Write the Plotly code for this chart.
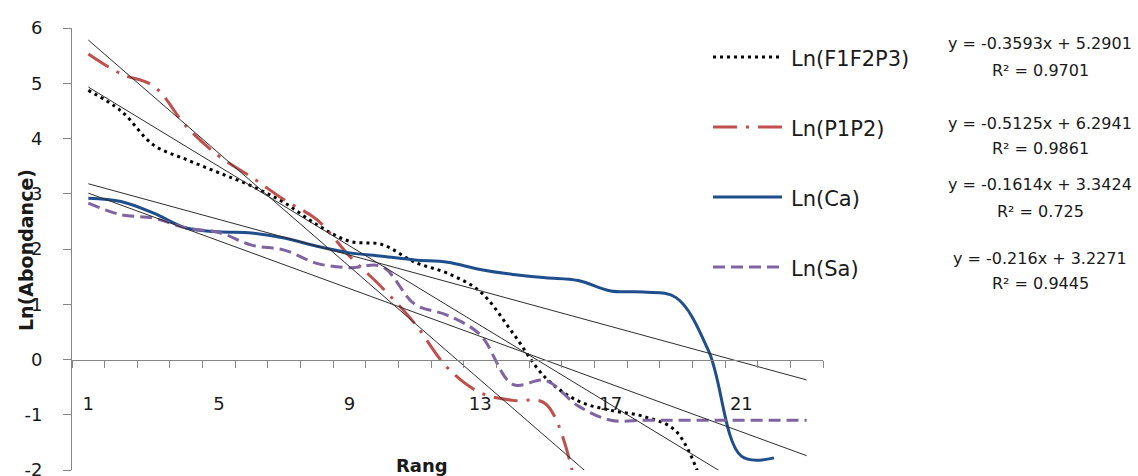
import plotly.graph_objects as go

# Rank (x) and Ln(abundance) per community
rang = list(range(1, 24))
ln_f1f2p3 = [4.87, 4.50, 3.88, 3.62, 3.38, 3.14, 2.84, 2.44, 2.14, 2.08, 1.76, 1.56,
             1.23, 0.48, -0.33, -0.75, -0.92, -1.03, -1.30, -2.60]
ln_p1p2 = [5.53, 5.17, 4.95, 4.22, 3.68, 3.30, 2.89, 2.53, 1.87, 1.30, 0.65, -0.15,
           -0.60, -0.74, -0.80, -2.50]
ln_ca = [2.92, 2.86, 2.65, 2.38, 2.31, 2.29, 2.20, 2.05, 1.93, 1.87, 1.80, 1.76,
         1.63, 1.54, 1.48, 1.43, 1.24, 1.22, 1.12, 0.15, -1.75, -1.78]
ln_sa = [2.83, 2.62, 2.56, 2.38, 2.30, 2.07, 1.98, 1.74, 1.66, 1.68, 1.00, 0.80,
         0.45, -0.45, -0.38, -0.84, -1.10, -1.10, -1.10, -1.10, -1.10, -1.10, -1.10]

series_names = ["Ln(F1F2P3)", "Ln(P1P2)", "Ln(Ca)", "Ln(Sa)"]
series_values = [ln_f1f2p3, ln_p1p2, ln_ca, ln_sa]

# Linear trendlines: y = slope * x + intercept
trend_slope = [-0.3593, -0.5125, -0.1614, -0.216]
trend_intercept = [5.2901, 6.2941, 3.3424, 3.2271]
trend_r2 = [0.9701, 0.9861, 0.725, 0.9445]

x_tick_vals = [1, 5, 9, 13, 17, 21]
y_tick_vals = [-2, -1, 0, 1, 2, 3, 4, 5, 6]

colors = ["#000000", "#C0504D", "#1F4E8C", "#8064A2"]
dashes = ["3px,4px", "24px,9px,3px,9px", "solid", "12px,6px"]

FONT = "DejaVu Sans"
TEXT = "#1a1a1a"
AXIS = "#868686"

W, H = 1138, 476
ML, MR, MT, MB = 72, 315, 28, 6
PW, PH = W - ML - MR, H - MT - MB


def px_x(px):
    return (px - ML) / PW


def px_y(py):
    return (H - MB - py) / PH


fig = go.Figure()

for name, vals, col, dash in zip(series_names, series_values, colors, dashes):
    fig.add_trace(go.Scatter(
        x=rang[:len(vals)], y=vals, mode="lines", name=name,
        line=dict(color=col, width=3, dash=dash, shape="spline", smoothing=1),
        showlegend=False,
    ))

for a, b in zip(trend_slope, trend_intercept):
    xs = [rang[0], rang[-1]]
    fig.add_trace(go.Scatter(
        x=xs, y=[a * v + b for v in xs], mode="lines",
        line=dict(color="#2e2e2e", width=1), showlegend=False, hoverinfo="skip",
    ))

# Legend keys and trendline equations at the right
legend_y = [57, 127, 197, 267]
eq_y = [(43, 70), (123, 148), (185, 212), (258, 283)]
shapes, annotations = [], []
for name, col, dash, ly, (ey1, ey2), a, b, r2 in zip(
        series_names, colors, dashes, legend_y, eq_y,
        trend_slope, trend_intercept, trend_r2):
    shapes.append(dict(type="line", xref="paper", yref="paper",
                       x0=px_x(713), x1=px_x(782), y0=px_y(ly), y1=px_y(ly),
                       line=dict(color=col, width=3, dash=dash)))
    annotations.append(dict(xref="paper", yref="paper", x=px_x(789), y=px_y(ly + 2),
                            xanchor="left", yanchor="middle", showarrow=False,
                            text=name, font=dict(family=FONT, size=21, color=TEXT)))
    sign = "+" if b >= 0 else "-"
    annotations.append(dict(xref="paper", yref="paper", x=px_x(1040), y=px_y(ey1),
                            xanchor="center", yanchor="middle", showarrow=False,
                            text=f"y = {a:g}x {sign} {abs(b):g}",
                            font=dict(family=FONT, size=16, color=TEXT)))
    annotations.append(dict(xref="paper", yref="paper", x=px_x(1040), y=px_y(ey2),
                            xanchor="center", yanchor="middle", showarrow=False,
                            text=f"R² = {r2:g}",
                            font=dict(family=FONT, size=16, color=TEXT)))

annotations.append(dict(xref="paper", yref="paper", x=px_x(422), y=px_y(465),
                        xanchor="center", yanchor="middle", showarrow=False,
                        text="<b>Rang</b>", font=dict(family=FONT, size=18, color=TEXT)))
annotations.append(dict(xref="paper", yref="paper", x=px_x(26), y=px_y(250),
                        xanchor="center", yanchor="middle", showarrow=False, textangle=-90,
                        text="<b>Ln(Abondance)</b>", font=dict(family=FONT, size=19, color=TEXT)))

fig.update_layout(
    width=W, height=H,
    margin=dict(l=ML, r=MR, t=MT, b=MB, autoexpand=False),
    paper_bgcolor="white", plot_bgcolor="white",
    showlegend=False,
    shapes=shapes, annotations=annotations,
    xaxis=dict(
        range=[0.5, 23.5], showgrid=False, zeroline=False, automargin=False,
        showline=True, linecolor=AXIS, linewidth=1,
        anchor="free", position=2 / 8,
        tickmode="array", tickvals=x_tick_vals, ticktext=[str(v) for v in x_tick_vals],
        ticks="", ticklabelstandoff=28,
        tickfont=dict(family=FONT, size=18, color=TEXT),
        minor=dict(tickmode="array", tickvals=[v - 0.5 for v in rang] + [rang[-1] + 0.5],
                   ticks="outside", ticklen=7, tickcolor=AXIS, tickwidth=1),
    ),
    yaxis=dict(
        range=[-2, 6], showgrid=False, zeroline=False, automargin=False,
        showline=True, linecolor=AXIS, linewidth=1,
        tickmode="array", tickvals=y_tick_vals, ticktext=[str(v) for v in y_tick_vals],
        ticks="outside", ticklen=8, tickcolor=AXIS, tickwidth=1,
        ticklabelstandoff=17, ticklabeloverflow="allow",
        tickfont=dict(family=FONT, size=18, color=TEXT),
    ),
)

fig.write_html("out.html")
